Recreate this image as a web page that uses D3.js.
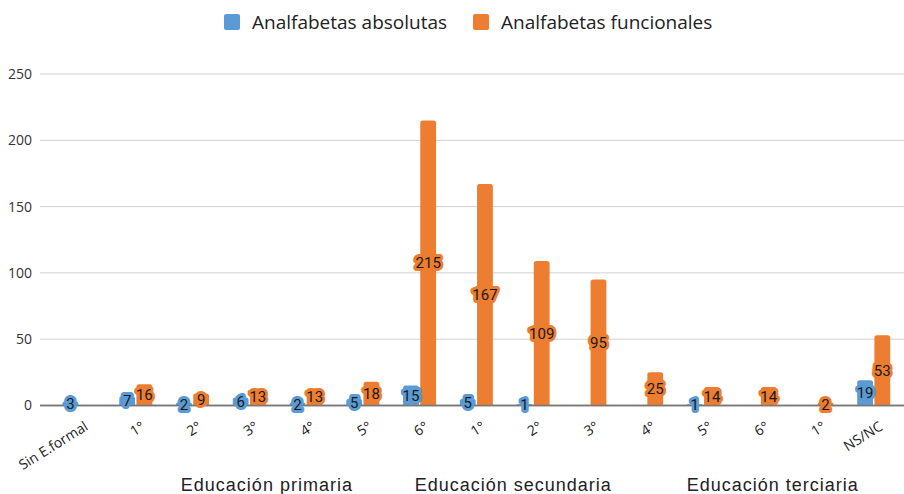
<!DOCTYPE html>
<html>
<head>
<meta charset="utf-8">
<script src="https://cdn.jsdelivr.net/npm/d3@7"></script>
<style>
body { margin: 0; background: #fff; }
svg { display: block; }
</style>
</head>
<body>
<script>
var categories = ["Sin E.formal", "1°", "2°", "3°", "4°", "5°", "6°", "1°", "2°", "3°", "4°", "5°", "6°", "1°", "NS/NC"];
var absolutas = [3, 7, 2, 6, 2, 5, 15, 5, 1, 0, 0, 1, 0, 0, 19];
var funcionales = [0, 16, 9, 13, 13, 18, 215, 167, 109, 95, 25, 14, 14, 2, 53];
var seriesNames = ["Analfabetas absolutas", "Analfabetas funcionales"];
var groupNames = ["Educación primaria", "Educación secundaria", "Educación terciaria"];
var yTicks = [0, 50, 100, 150, 200, 250];

var width = 904, height = 494,
colors = ["#5b9bd5", "#ed7d31"],
// where the group titles sit, in category units
groupAt = [3.31, 7.65, 12.22];

var svg = d3.select("body").append("svg")
	.attr("width", width)
	.attr("height", height);

var xSc = d3.scaleBand().domain(d3.range(categories.length)).range([50.6, 902.1]).padding(0),
ySc = d3.scaleLinear().domain([0, 250]).range([405.5, 74]),
xSub = d3.scaleBand().domain([0, 1])
	.range([xSc.bandwidth() / 2 - 16.5, xSc.bandwidth() / 2 + 16.5])
	.paddingInner(0.08);

// gridlines + y labels
var yAxis = svg.append("g").attr("class", "y axis");
yAxis.selectAll("line").data(yTicks).enter().append("line")
	.attr("x1", 40).attr("x2", width)
	.attr("y1", function(d) { return ySc(d); })
	.attr("y2", function(d) { return ySc(d); })
	.attr("stroke", function(d) { return d === 0 ? "#777" : "#d0d0d0"; })
	.attr("stroke-width", function(d) { return d === 0 ? 1.5 : 1; });
yAxis.selectAll("text").data(yTicks).enter().append("text")
	.attr("x", 32)
	.attr("y", function(d) { return ySc(d); })
	.attr("dy", "0.35em")
	.attr("text-anchor", "end")
	.attr("font-family", "Open Sans")
	.attr("font-size", "14px")
	.attr("fill", "#333")
	.text(function(d) { return d; });

// bars
var series = [absolutas, funcionales];
var rows = [];
series.forEach(function(vals, s) {
	vals.forEach(function(v, i) { if (v > 0) rows.push({s: s, i: i, v: v}); });
});

function barPath(x0, y0, w, y1) {
	var r = Math.min(2.5, (y1 - y0) / 2);
	return "M" + x0 + "," + y1 + "V" + (y0 + r) + "Q" + x0 + "," + y0 + " " + (x0 + r) + "," + y0 +
		"H" + (x0 + w - r) + "Q" + (x0 + w) + "," + y0 + " " + (x0 + w) + "," + (y0 + r) + "V" + y1 + "Z";
}

svg.append("g").attr("class", "bars")
	.selectAll("path").data(rows).enter().append("path")
	.attr("d", function(d) {
		return barPath(xSc(d.i) + xSub(d.s), ySc(d.v), xSub.bandwidth(), ySc(0));
	})
	.attr("fill", function(d) { return colors[d.s]; });

// baseline on top of bars
svg.append("line")
	.attr("x1", 40).attr("x2", width)
	.attr("y1", ySc(0)).attr("y2", ySc(0))
	.attr("stroke", "#777").attr("stroke-width", 1.5);

// value labels with halo
var labels = svg.append("g").attr("class", "labels")
	.selectAll("g").data(rows).enter().append("g")
	.attr("transform", function(d) {
		return "translate(" + (xSc(d.i) + xSub(d.s) + xSub.bandwidth() / 2) + "," + ((ySc(d.v) + ySc(0)) / 2) + ")";
	});
labels.append("text")
	.attr("text-anchor", "middle").attr("dy", "0.36em")
	.attr("font-family", "Roboto").attr("font-size", "15px")
	.attr("fill", "none")
	.attr("stroke", function(d) { return colors[d.s]; })
	.attr("stroke-width", 6).attr("stroke-linejoin", "round")
	.text(function(d) { return d.v; });
labels.append("text")
	.attr("text-anchor", "middle").attr("dy", "0.36em")
	.attr("font-family", "Roboto").attr("font-size", "15px")
	.attr("fill", "#1a1a1a")
	.text(function(d) { return d.v; });

// category labels
svg.append("g").attr("class", "x axis")
	.selectAll("text").data(categories).enter().append("text")
	.attr("transform", function(d, i) {
		return "translate(" + (xSc(i) + xSc.bandwidth() / 2 + 10) + ",429) rotate(-32)";
	})
	.attr("text-anchor", "end")
	.attr("font-family", "Open Sans")
	.attr("font-size", "14px")
	.attr("fill", "#222")
	.text(function(d) { return d; });

// group titles
svg.append("g").attr("class", "groups")
	.selectAll("text").data(groupNames).enter().append("text")
	.attr("x", function(d, i) { return xSc.range()[0] + xSc.step() * (groupAt[i] + 0.5); })
	.attr("y", 491)
	.attr("text-anchor", "middle")
	.attr("font-family", "Liberation Sans")
	.attr("font-size", "18px")
	.attr("letter-spacing", "1px")
	.attr("fill", "#222")
	.text(function(d) { return d; });

// legend
var legendX = [224, 473];
var legend = svg.append("g").attr("class", "legend")
	.selectAll("g").data(seriesNames).enter().append("g")
	.attr("transform", function(d, i) { return "translate(" + legendX[i] + ",14)"; });
legend.append("rect")
	.attr("width", 16).attr("height", 16).attr("rx", 2)
	.attr("fill", function(d, i) { return colors[i]; });
legend.append("text")
	.attr("x", 28).attr("y", 15)
	.attr("font-family", "Open Sans")
	.attr("font-size", "19px")
	.attr("fill", "#222")
	.text(function(d) { return d; });
</script>
</body>
</html>
